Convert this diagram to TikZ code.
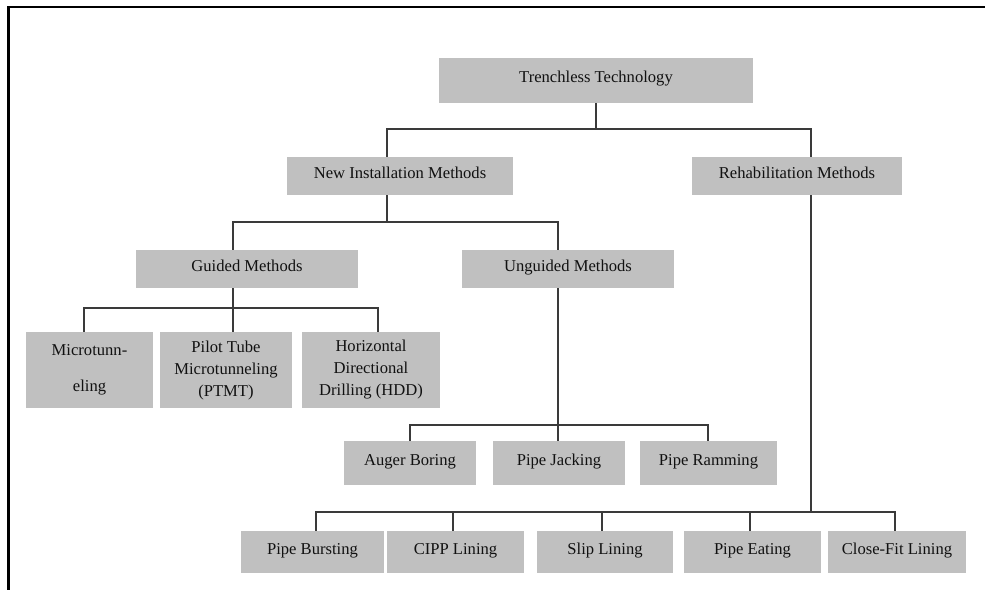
\documentclass[tikz,border=0pt]{standalone}
\usepackage{fontspec}
\setmainfont{Liberation Serif}
\definecolor{boxgray}{HTML}{C0C0C0}
\definecolor{linegray}{HTML}{3A3A3A}
\definecolor{txt}{HTML}{111111}
\begin{document}
\begin{tikzpicture}[x=1pt,y=-1pt,
  box/.style={fill=boxgray, draw=none, inner sep=0pt, text=txt,
    font=\fontsize{16.6}{22}\selectfont, text height=11pt, text depth=7pt},
  mbox/.style={fill=boxgray, draw=none, inner sep=0pt, text=txt, align=center,
    font=\fontsize{16.6}{22}\selectfont},
  conn/.style={draw=linegray, line width=1.2pt},
  frame/.style={draw=black, line width=2.6pt}]
\useasboundingbox (0,0) rectangle (985,590);
% frame
\coordinate (fa) at (985,7);
\coordinate (fb) at (8.7,7);
\coordinate (fc) at (8.7,590);
\draw[frame] (fa) -- (fb) -- (fc);
% nodes
\node[box, minimum width=314pt, minimum height=45pt] (tt) at (596,80.5) {Trenchless Technology};
\node[box, minimum width=226pt, minimum height=38pt] (nim) at (400,176) {New Installation Methods};
\node[box, minimum width=210pt, minimum height=38pt] (rehab) at (797,176) {Rehabilitation Methods};
\node[box, minimum width=222pt, minimum height=38pt] (guided) at (247,269) {Guided Methods};
\node[box, minimum width=212pt, minimum height=38pt] (unguided) at (568,269) {Unguided Methods};
\node[mbox, minimum width=127pt, minimum height=76pt] (micro) at (89.5,370) {Microtunn-\\[14pt]eling};
\node[mbox, minimum width=132pt, minimum height=76pt] (pilot) at (226,370) {Pilot Tube\\Microtunneling\\(PTMT)};
\node[mbox, minimum width=138pt, minimum height=76pt] (hdd) at (371,370) {Horizontal\\Directional\\Drilling (HDD)};
\node[box, minimum width=132pt, minimum height=44pt] (auger) at (410,463) {Auger Boring};
\node[box, minimum width=132pt, minimum height=44pt] (jack) at (559,463) {Pipe Jacking};
\node[box, minimum width=137pt, minimum height=44pt] (ram) at (708.5,463) {Pipe Ramming};
\node[box, minimum width=143pt, minimum height=42pt] (burst) at (312.5,552) {Pipe Bursting};
\node[box, minimum width=137pt, minimum height=42pt] (cipp) at (455.5,552) {CIPP Lining};
\node[box, minimum width=136pt, minimum height=42pt] (slip) at (605,552) {Slip Lining};
\node[box, minimum width=137pt, minimum height=42pt] (eat) at (752.5,552) {Pipe Eating};
\node[box, minimum width=138pt, minimum height=42pt] (close) at (897,552) {Close-Fit Lining};
% junction coordinates
\coordinate (h1l) at (387,129);
\coordinate (h1r) at (811,129);
\coordinate (h2c) at (387,222);
\coordinate (h2l) at (233,222);
\coordinate (h2r) at (558,222);
\coordinate (h3c) at (233,308);
\coordinate (h3l) at (84,308);
\coordinate (h3r) at (378,308);
\coordinate (h4c) at (558,425);
\coordinate (h4l) at (410,425);
\coordinate (h4r) at (708,425);
\coordinate (h5c) at (811,512);
\coordinate (h5l) at (316,512);
\coordinate (h5b) at (453,512);
\coordinate (h5s) at (602,512);
\coordinate (h5e) at (750,512);
\coordinate (h5r) at (895,512);
% level 1
\draw[conn] (tt.south) -- (tt.south |- h1l);
\draw[conn] (h1l |- nim.north) -- (h1l) -- (h1r) -- (h1r |- rehab.north);
% level 2
\draw[conn] (h2c |- nim.south) -- (h2c);
\draw[conn] (h2l |- guided.north) -- (h2l) -- (h2r) -- (h2r |- unguided.north);
% guided
\draw[conn] (h3c |- guided.south) -- (h3c |- pilot.north);
\draw[conn] (h3l |- micro.north) -- (h3l) -- (h3r) -- (h3r |- hdd.north);
% unguided
\draw[conn] (h4c |- unguided.south) -- (h4c |- jack.north);
\draw[conn] (h4l |- auger.north) -- (h4l) -- (h4r) -- (h4r |- ram.north);
% rehabilitation
\draw[conn] (h5c |- rehab.south) -- (h5c);
\draw[conn] (h5l |- burst.north) -- (h5l) -- (h5r) -- (h5r |- close.north);
\draw[conn] (h5b) -- (h5b |- cipp.north);
\draw[conn] (h5s) -- (h5s |- slip.north);
\draw[conn] (h5e) -- (h5e |- eat.north);
\end{tikzpicture}
\end{document}
